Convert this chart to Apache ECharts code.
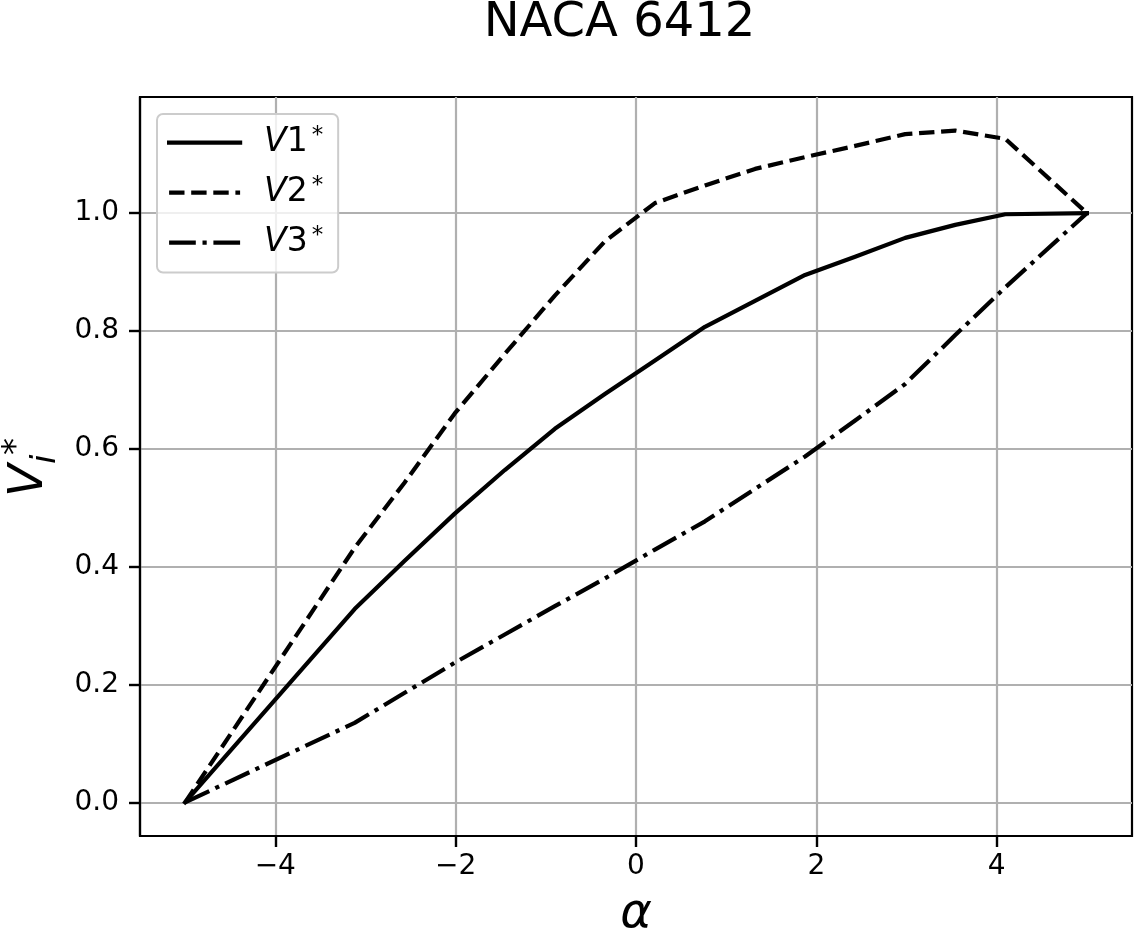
<!DOCTYPE html>
<html>
<head>
<meta charset="utf-8">
<script src="https://cdn.jsdelivr.net/npm/echarts@6/dist/echarts.min.js"></script>
<style>
  html, body { margin: 0; padding: 0; background: #fff; }
  #chart { width: 1136px; height: 935px; }
</style>
</head>
<body>
<div id="chart"></div>
<script>
// ---- data ----
const alpha = [-5, -3.12, -2.565, -2.01, -1.455, -0.9, -0.345, 0.21, 0.765, 1.32, 1.875, 2.43, 2.985, 3.54, 4.095, 5];
const V1 = [0, 0.328, 0.41, 0.49, 0.564, 0.634, 0.693, 0.75, 0.807, 0.851, 0.895, 0.926, 0.958, 0.98, 0.998, 1.0];
const V2 = [0, 0.432, 0.543, 0.66, 0.761, 0.86, 0.952, 1.017, 1.047, 1.075, 1.095, 1.114, 1.134, 1.14, 1.126, 1.0];
const V3 = [0, 0.135, 0.186, 0.237, 0.285, 0.333, 0.38, 0.429, 0.477, 0.532, 0.587, 0.648, 0.71, 0.793, 0.874, 1.0];
const seriesNames = ['V1', 'V2', 'V3'];
const xTicks = [-4, -2, 0, 2, 4];
const yTicks = [0, 0.2, 0.4, 0.6, 0.8, 1.0];
const xRange = [-5.5, 5.5];
const yRange = [-0.057, 1.197];
const titleText = 'NACA 6412';

const FONT = 'DejaVu Sans';
const pairs = (ys) => alpha.map((a, i) => [a, ys[i]]);
const dashTypes = ['solid', [15.4, 6.7], [26.7, 6.7, 4.2, 6.7]];
const data = [V1, V2, V3];

const tickStyle = (vals) => ({ show: true, length: 11, customValues: vals, lineStyle: { color: '#000', width: 2.4 } });

const chart = echarts.init(document.getElementById('chart'));
const option = {
  backgroundColor: '#ffffff',
  animation: false,
  grid: {
    left: 140, right: 4, top: 97, bottom: 99,
    outerBoundsMode: 'none',
    show: true, borderColor: '#000', borderWidth: 2.2
  },
  xAxis: {
    type: 'value', min: xRange[0], max: xRange[1],
    name: 'α', nameLocation: 'middle', nameGap: 55,
    nameTextStyle: { fontFamily: FONT, fontStyle: 'italic', fontSize: 48, color: '#000' },
    axisLine: { show: true, onZero: false, lineStyle: { color: '#000', width: 2.2 } },
    axisTick: tickStyle(xTicks),
    axisLabel: { customValues: xTicks, margin: 17, fontFamily: FONT, fontSize: 28, color: '#000',
      formatter: v => String(v).replace('-', '\u2212') },
    splitLine: { show: true, lineStyle: { color: '#b0b0b0', width: 2.2 } }
  },
  yAxis: {
    type: 'value', min: yRange[0], max: yRange[1],
    axisLine: { show: true, onZero: false, lineStyle: { color: '#000', width: 2.2 } },
    axisTick: tickStyle(yTicks),
    axisLabel: { customValues: yTicks, margin: 21, fontFamily: FONT, fontSize: 28, color: '#000',
      formatter: v => v.toFixed(1).replace('-', '\u2212') },
    splitLine: { show: true, lineStyle: { color: '#b0b0b0', width: 2.2 } }
  },
  legend: {
    left: 157, top: 114, orient: 'vertical',
    itemWidth: 71, itemHeight: 14, itemGap: 15.5,
    padding: [10.7, 15, 13.3, 10],
    backgroundColor: 'rgba(255,255,255,0.8)',
    borderColor: '#cccccc', borderWidth: 2, borderRadius: 6,
    data: seriesNames,
    itemStyle: { opacity: 0, borderWidth: 0 },
    lineStyle: { width: 4.2, color: '#000', type: 'inherit', opacity: 1 },
    formatter: n => '{v|V}{d|' + n.slice(1) + '}{s|*}',
    textStyle: {
      color: '#000',
      rich: {
        v: { fontFamily: FONT, fontStyle: 'italic', fontSize: 33, lineHeight: 36, padding: [0, 0, 0, 19], color: '#000' },
        d: { fontFamily: FONT, fontSize: 33, lineHeight: 36, color: '#000' },
        s: { fontFamily: FONT, fontSize: 23, lineHeight: 23, verticalAlign: 'top', padding: [0, 0, 0, 4], color: '#000' }
      }
    }
  },
  series: seriesNames.map((n, k) => ({
    name: n, type: 'line', data: pairs(data[k]),
    showSymbol: false, symbol: 'none', smooth: false,
    lineStyle: { color: '#000', width: 4.2, type: dashTypes[k], cap: k === 0 ? 'square' : 'butt', join: 'round' },
    itemStyle: { color: '#000' },
    z: 3
  })),
  graphic: [
    { type: 'text', x: 619.5, y: 24,
      style: { text: titleText, fontFamily: FONT, fontSize: 48, fill: '#000', textAlign: 'center', textVerticalAlign: 'middle' } },
    { type: 'group', x: 30, y: 497, rotation: Math.PI / 2,
      children: [
        { type: 'text', x: 0, y: 0,
          style: { text: 'V', fontFamily: FONT, fontStyle: 'italic', fontSize: 48, fill: '#000', textAlign: 'left', textVerticalAlign: 'middle' } },
        { type: 'text', x: 42, y: -12.5,
          style: { text: '*', fontFamily: FONT, fontSize: 34, fill: '#000', textAlign: 'left', textVerticalAlign: 'middle' } },
        { type: 'text', x: 33, y: 16.5,
          style: { text: 'i', fontFamily: FONT, fontStyle: 'italic', fontSize: 34, fill: '#000', textAlign: 'left', textVerticalAlign: 'middle' } }
      ] }
  ]
};
chart.setOption(option);
</script>
</body>
</html>
